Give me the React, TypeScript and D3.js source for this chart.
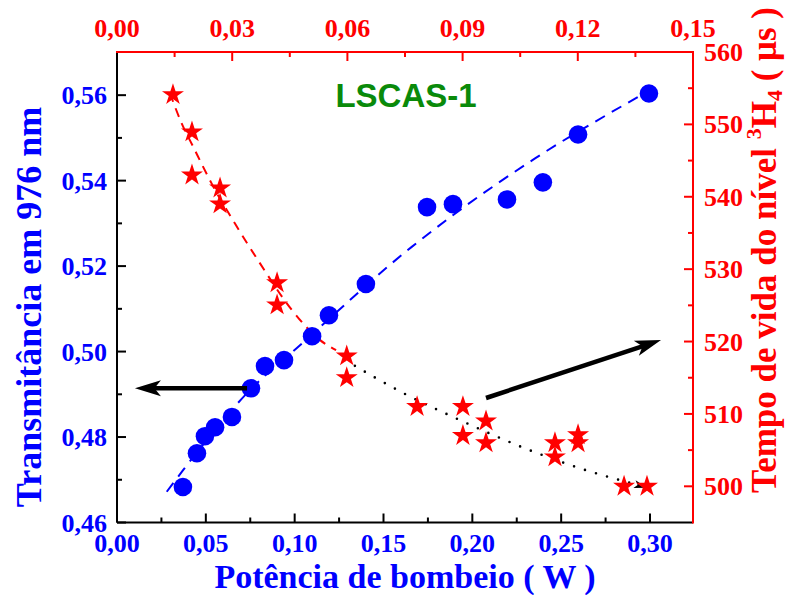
import React from 'react';
import * as d3 from 'd3';

// ---------- data ----------
// Transmittance (left axis) vs pump power (W)
const transPower = [0.0371, 0.0450, 0.0495, 0.0552, 0.0647, 0.0754, 0.0833, 0.0940, 0.1098, 0.1193, 0.1401, 0.1745, 0.1891, 0.2195, 0.2397, 0.2595, 0.2994];
const transValue = [0.4683, 0.4762, 0.4802, 0.4823, 0.4847, 0.4914, 0.4966, 0.4980, 0.5036, 0.5085, 0.5158, 0.5338, 0.5345, 0.5356, 0.5396, 0.5508, 0.5604];

// Lifetime of 3H4 level (right axis) vs pump power (W)
const lifePower = [0.0315, 0.0422, 0.0422, 0.0580, 0.0580, 0.0901, 0.0901, 0.1293, 0.1293, 0.1689, 0.1947, 0.1947, 0.2077, 0.2077, 0.2465, 0.2465, 0.2595, 0.2595, 0.2854, 0.2983];
const lifeValue = [554.1, 548.95, 543.0, 541.2, 539.0, 528.1, 525.05, 518.0, 515.0, 511.0, 511.0, 507.0, 509.0, 506.0, 506.0, 504.05, 507.1, 506.0, 500.0, 500.0];

// Fit curves
const transFitPower = [0.0280, 0.0373, 0.0749, 0.1030, 0.1659, 0.1884, 0.2353, 0.2916, 0.3017];
const transFitValue = [0.4672, 0.4723, 0.4910, 0.5015, 0.5245, 0.5317, 0.5452, 0.5592, 0.5616];

const lifeFitPower = [0.0298, 0.0364, 0.0429, 0.0542, 0.0664, 0.0805, 0.0983, 0.1143, 0.1233];
const lifeFitValue = [554.3, 550.15, 546.9, 541.4, 536.3, 530.8, 524.4, 520.2, 518.8];

const lifeTrendPower = [0.1283, 0.1610, 0.1953, 0.2280, 0.2617, 0.2983];
const lifeTrendValue = [517.45, 512.9, 508.9, 505.4, 502.4, 499.8];

// Annotation arrows
const leftArrowPower = [0.0732, 0.0101];
const leftArrowValue = [0.4914, 0.4914];
const rightArrowPower = [0.2077, 0.3062];
const rightArrowValue = [512.2, 520.2];

// Ticks
const bottomTicks = [0, 0.05, 0.10, 0.15, 0.20, 0.25, 0.30];
const bottomMinor = [0.025, 0.075, 0.125, 0.175, 0.225, 0.275];
const topTicks = [0, 0.03, 0.06, 0.09, 0.12, 0.15];
const topMinor = [0.015, 0.045, 0.075, 0.105, 0.135];
const leftTicks = [0.46, 0.48, 0.50, 0.52, 0.54, 0.56];
const leftMinor = [0.47, 0.49, 0.51, 0.53, 0.55];
const rightTicks = [500, 510, 520, 530, 540, 550, 560];
const rightMinor = [505, 515, 525, 535, 545, 555];

// ---------- layout ----------
const W = 790, H = 595;
const L = 117, R = 693, T = 52, B = 522.5;
const BLUE = '#0000ff', RED = '#ff0000', GREEN = '#0a8a0a';
const SERIF = '"Liberation Serif", "Times New Roman", serif';
const SANS = '"Liberation Sans", Arial, sans-serif';

const x = d3.scaleLinear().domain([0, 0.3242]).range([L, R]);
const xTop = d3.scaleLinear().domain([0, 0.15]).range([L, R]);
const yL = d3.scaleLinear().domain([0.46, 0.5701]).range([B, T]);
const yR = d3.scaleLinear().domain([495, 560]).range([B, T]);

const fmt = (v: number) => v.toFixed(2).replace('.', ',');

function Arrow({ x1, y1, x2, y2, width, headLen, headHalf, noLine }:
  { x1: number; y1: number; x2: number; y2: number; width: number; headLen: number; headHalf: number; noLine?: boolean }) {
  const dx = x2 - x1, dy = y2 - y1;
  const len = Math.hypot(dx, dy);
  const ux = dx / len, uy = dy / len;
  const bx = x2 - ux * headLen, by = y2 - uy * headLen;
  const px = -uy, py = ux;
  const head = `M${x2},${y2}L${bx + px * headHalf},${by + py * headHalf}L${bx + ux * headLen * 0.25},${by + uy * headLen * 0.25}L${bx - px * headHalf},${by - py * headHalf}Z`;
  return (
    <g>
      {!noLine && <line x1={x1} y1={y1} x2={bx + ux * headLen * 0.3} y2={by + uy * headLen * 0.3} stroke="#000" strokeWidth={width} />}
      <path d={head} fill="#000" />
    </g>
  );
}

export default function App() {
  const lineT = d3.line<number>().x((_, i) => x(transFitPower[i])).y((d) => yL(d)).curve(d3.curveMonotoneX);
  const lineLF = d3.line<number>().x((_, i) => x(lifeFitPower[i])).y((d) => yR(d)).curve(d3.curveMonotoneX);
  const trendPts = lifeTrendPower.map((p, i) => [x(p), yR(lifeTrendValue[i])] as [number, number]);
  const tl = trendPts[trendPts.length - 1];
  const tp = trendPts[trendPts.length - 2];
  const trendPath = d3.line().curve(d3.curveMonotoneX)(trendPts.slice(0, -1).concat([[tl[0] - 10, tl[1] - 3]]));
  const star = d3.symbol().type(d3.symbolStar).size(150)();

  const tickFont = { fontFamily: SERIF, fontWeight: 700, fontSize: 26 } as const;

  return (
    <svg width={W} height={H} style={{ position: 'absolute', left: 0, top: 0, background: '#fff' }}>
      <rect x={0} y={0} width={W} height={H} fill="#fff" />

      {/* fit lines */}
      <path d={lineT(transFitValue) || ''} fill="none" stroke={BLUE} strokeWidth={2} strokeDasharray="11 8" />
      <path d={lineLF(lifeFitValue) || ''} fill="none" stroke={RED} strokeWidth={2} strokeDasharray="9 7" />
      <path d={trendPath || ''} fill="none" stroke="#000" strokeWidth={2.6} strokeDasharray="0 11.5" strokeLinecap="round" />
      <Arrow x1={tp[0]} y1={tp[1]} x2={tl[0]} y2={tl[1]} width={0} headLen={13} headHalf={4} noLine />

      {/* data */}
      {transPower.map((p, i) => (
        <circle key={'c' + i} cx={x(p)} cy={yL(transValue[i])} r={9.3} fill={BLUE} />
      ))}
      {lifePower.map((p, i) => (
        <path key={'s' + i} d={star || ''} transform={`translate(${x(p)},${yR(lifeValue[i])})`} fill={RED} />
      ))}

      {/* annotation arrows */}
      <Arrow x1={x(leftArrowPower[0])} y1={yL(leftArrowValue[0])} x2={x(leftArrowPower[1])} y2={yL(leftArrowValue[1])} width={4.5} headLen={26} headHalf={8} />
      <Arrow x1={x(rightArrowPower[0])} y1={yR(rightArrowValue[0])} x2={x(rightArrowPower[1])} y2={yR(rightArrowValue[1])} width={4.5} headLen={26} headHalf={8} />

      {/* axes lines */}
      <line x1={L} y1={B} x2={R} y2={B} stroke="#000" strokeWidth={2} />
      <line x1={L} y1={T} x2={L} y2={B} stroke="#000" strokeWidth={2} />
      <line x1={L - 1} y1={T} x2={R + 1} y2={T} stroke={RED} strokeWidth={2} />
      <line x1={R} y1={T} x2={R} y2={B + 1} stroke={RED} strokeWidth={2} />

      {/* bottom ticks */}
      {bottomTicks.map((t) => (
        <g key={'bt' + t}>
          <line x1={x(t)} x2={x(t)} y1={B} y2={B - 9} stroke="#000" strokeWidth={2} />
          <text x={x(t)} y={552} textAnchor="middle" fill={BLUE} {...tickFont}>{fmt(t)}</text>
        </g>
      ))}
      {bottomMinor.map((t) => (
        <line key={'bm' + t} x1={x(t)} x2={x(t)} y1={B} y2={B - 5} stroke="#000" strokeWidth={2} />
      ))}

      {/* top ticks */}
      {topTicks.map((t) => (
        <g key={'tt' + t}>
          {t > 0 && t < 0.15 && <line x1={xTop(t)} x2={xTop(t)} y1={T} y2={T + 9} stroke={RED} strokeWidth={2} />}
          <text x={xTop(t)} y={37} textAnchor="middle" fill={RED} {...tickFont}>{fmt(t)}</text>
        </g>
      ))}
      {topMinor.map((t) => (
        <line key={'tm' + t} x1={xTop(t)} x2={xTop(t)} y1={T} y2={T + 5} stroke={RED} strokeWidth={2} />
      ))}

      {/* left ticks */}
      {leftTicks.map((t) => (
        <g key={'lt' + t}>
          <line x1={L} x2={L + 9} y1={yL(t)} y2={yL(t)} stroke="#000" strokeWidth={2} />
          <text x={L - 10} y={yL(t) + 9} textAnchor="end" fill={BLUE} {...tickFont}>{fmt(t)}</text>
        </g>
      ))}
      {leftMinor.map((t) => (
        <line key={'lm' + t} x1={L} x2={L + 5} y1={yL(t)} y2={yL(t)} stroke="#000" strokeWidth={2} />
      ))}

      {/* right ticks */}
      {rightTicks.map((t) => (
        <g key={'rt' + t}>
          <line x1={R} x2={R - 9} y1={yR(t)} y2={yR(t)} stroke={RED} strokeWidth={2} />
          <text x={R + 11} y={yR(t) + 9} textAnchor="start" fill={RED} {...tickFont}>{t}</text>
        </g>
      ))}
      {rightMinor.map((t) => (
        <line key={'rm' + t} x1={R} x2={R - 5} y1={yR(t)} y2={yR(t)} stroke={RED} strokeWidth={2} />
      ))}

      {/* titles */}
      <text x={405} y={588} textAnchor="middle" fill={BLUE} fontFamily={SERIF} fontWeight={700} fontSize={34}>Potência de bombeio ( W )</text>
      <text transform="translate(41,307) rotate(-90)" textAnchor="middle" fill={BLUE} fontFamily={SERIF} fontWeight={700} fontSize={36}>Transmitância em 976 nm</text>
      <text transform="translate(776,250) rotate(-90)" textAnchor="middle" fill={RED} fontFamily={SERIF} fontWeight={700} fontSize={35}>
        Tempo de vida do nível <tspan fontSize={22} dy={-15}>3</tspan><tspan dy={15}>H</tspan><tspan fontSize={22} dy={6}>4</tspan><tspan dy={-6}> ( μs )</tspan>
      </text>
      <text x={406} y={107} textAnchor="middle" fill={GREEN} fontFamily={SANS} fontWeight={700} fontSize={33}>LSCAS-1</text>
    </svg>
  );
}
